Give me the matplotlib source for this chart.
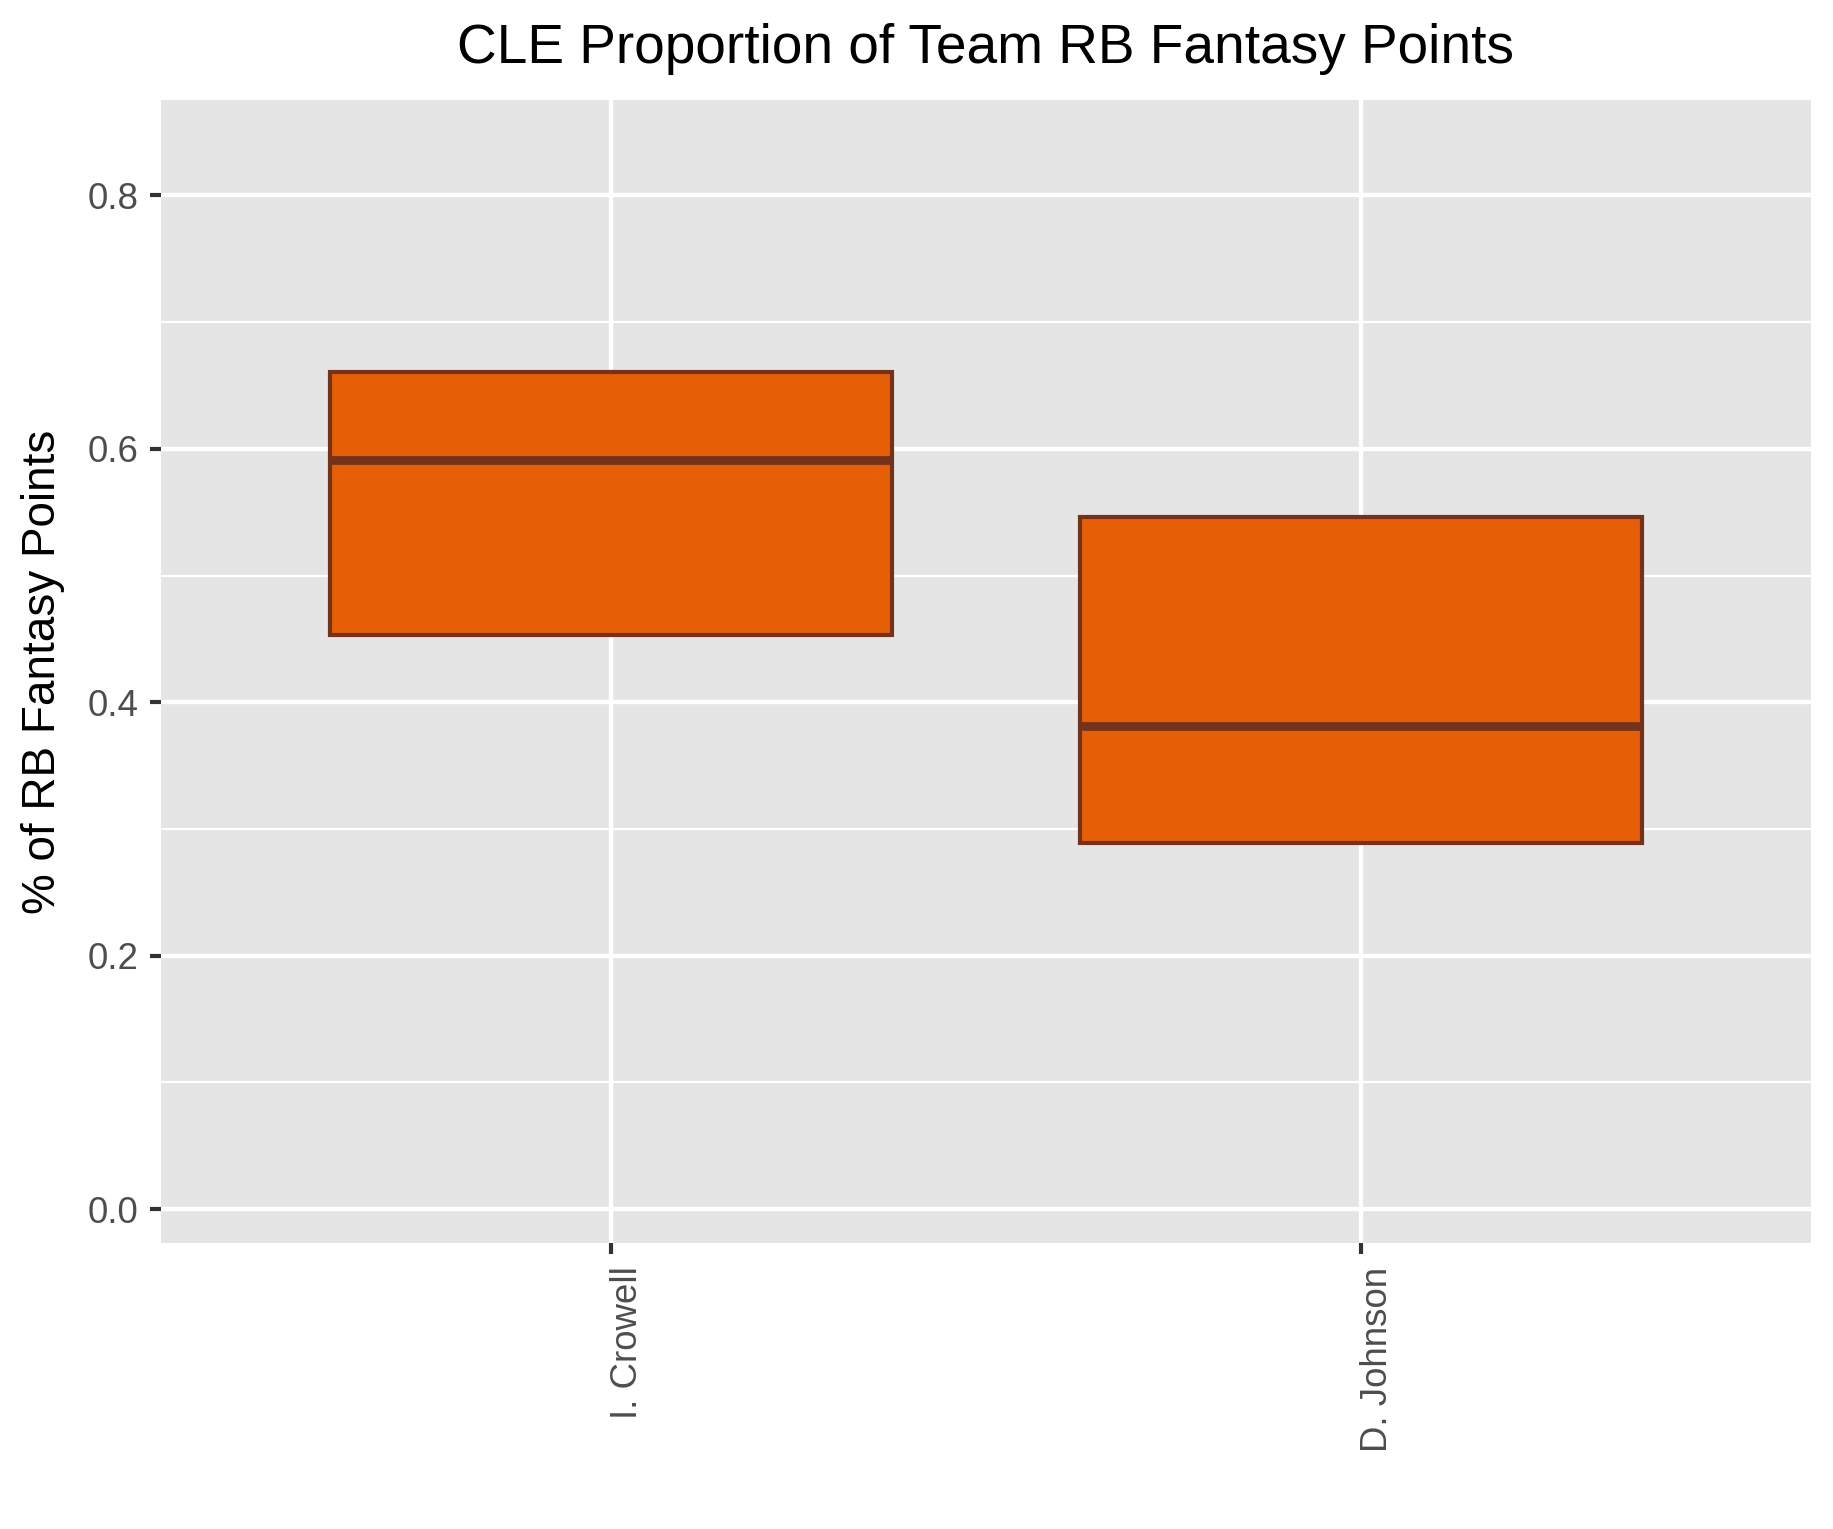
import matplotlib
matplotlib.use("Agg")
import matplotlib.pyplot as plt
from matplotlib.transforms import ScaledTranslation

plt.rcParams["font.family"] = ["Liberation Sans", "DejaVu Sans"]

# box stats
players = ["I. Crowell", "D. Johnson"]
q1 = [0.453, 0.289]
median = [0.591, 0.381]
q3 = [0.661, 0.546]

FILL = "#E65F07"
EDGE = "#74321A"
PANEL = "#E5E5E5"

fig = plt.figure(figsize=(1833 / 300, 1529 / 300), dpi=300)
ax = fig.add_axes([161 / 1833, 1 - 1243 / 1529, (1811 - 161) / 1833, (1243 - 100) / 1529])
ax.set_facecolor(PANEL)
for s in ax.spines.values():
    s.set_visible(False)

stats = [dict(med=m, q1=a, q3=b, whislo=a, whishi=b, fliers=[])
         for a, m, b in zip(q1, median, q3)]
ax.bxp(stats, positions=[1, 2], widths=0.75, patch_artist=True,
       showcaps=False, showfliers=False,
       boxprops=dict(facecolor=FILL, edgecolor=EDGE, linewidth=1.0),
       medianprops=dict(color=EDGE, linewidth=2.1, solid_capstyle="butt"),
       whiskerprops=dict(linewidth=0), zorder=3)

ax.set_xlim(0.4, 2.6)
ax.set_ylim(-0.0268, 0.8753)
ax.set_yticks([0.0, 0.2, 0.4, 0.6, 0.8])
ax.set_yticklabels(["0.0", "0.2", "0.4", "0.6", "0.8"])
ax.set_yticks([0.1, 0.3, 0.5, 0.7], minor=True)
ax.set_xticks([1, 2])
ax.set_xticklabels(players)

ax.grid(True, which="major", color="white", lw=1.05, zorder=0)
ax.grid(True, which="minor", axis="y", color="white", lw=0.53, zorder=0)
ax.set_axisbelow(True)

ax.tick_params(which="major", length=2.75, width=1.0, color="#333333",
               labelcolor="#4D4D4D", labelsize=8.8, pad=2.6)
ax.tick_params(which="minor", length=0)
ax.tick_params(axis="x", pad=2.9)

shift = ScaledTranslation(26 / 300, 0, fig.dpi_scale_trans)
for lab in ax.get_xticklabels():
    lab.set_rotation(90)
    lab.set_rotation_mode("anchor")
    lab.set_ha("right")
    lab.set_va("baseline")
    lab.set_transform(lab.get_transform() + shift)

fig.text(986 / 1833, 1 - 63 / 1529, "CLE Proportion of Team RB Fantasy Points",
         ha="center", va="baseline", fontsize=13.2, color="black")
fig.text(55 / 1833, 1 - 671.5 / 1529, "% of RB Fantasy Points", rotation=90,
         rotation_mode="anchor", ha="center", va="baseline", fontsize=11, color="black")

fig.savefig("out.png", dpi=300, facecolor="white")
